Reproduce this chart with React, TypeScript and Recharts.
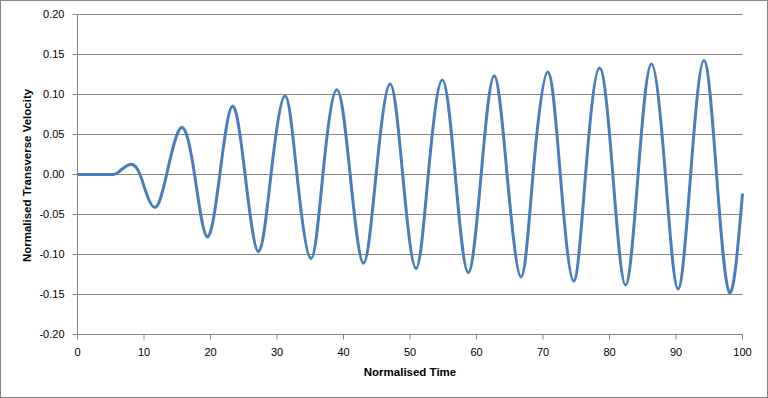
import React from 'react';
import { LineChart, Line, XAxis, YAxis, CartesianGrid } from 'recharts';

const times = [
  0, 1.5, 3, 4.5, 5.4, 6.2, 8.1, 9.4, 10.2, 11.7, 13.4, 15.6, 17.6, 19.5, 21.4, 23.3, 25.2, 27.2, 29.1, 31.2,
  33.0, 35.1, 36.9, 39.0, 41.0, 43.0, 44.9, 47.0, 48.9, 50.9, 52.75, 54.85, 56.8, 58.75,
  60.7, 62.65, 64.6, 66.7, 68.5, 70.7, 72.6, 74.6, 76.4, 78.5, 80.5, 82.4, 84.3, 86.3,
  88.4, 90.3, 92.2, 94.2, 96.1, 98.05, 100,
];

const velocities = [
  0, 0, 0, 0, 0, 0.0033, 0.0128, 0, -0.0196, -0.041, 0, 0.0587, 0, -0.078, 0, 0.0855, 0, -0.0965, 0, 0.098,
  0, -0.105, 0, 0.106, 0, -0.111, 0, 0.113, 0, -0.1175, 0, 0.118, 0, -0.1225,
  0, 0.123, 0, -0.128, 0, 0.128, 0, -0.133, 0, 0.133, 0, -0.138, 0, 0.138,
  0, -0.143, 0, 0.1425, 0, -0.1475, -0.024,
];

const xTicks = [0, 10, 20, 30, 40, 50, 60, 70, 80, 90, 100];
const yTicks = [-0.2, -0.15, -0.1, -0.05, 0, 0.05, 0.1, 0.15, 0.2];

const xTitle = 'Normalised Time';
const yTitle = 'Normalised Transverse Velocity';

const data = times.map((t, i) => ({ t, v: velocities[i] }));

const FONT = '"Liberation Sans", Arial, sans-serif';
const GRID = '#868686';

const XTitle = (props: any) => {
  const vb = props.viewBox || { x: 77.5, y: 334.5, width: 665, height: 63.5 };
  return (
    <text
      x={vb.x + vb.width / 2}
      y={vb.y + 41.5}
      textAnchor="middle"
      fontFamily={FONT}
      fontSize={11.5}
      fontWeight="bold"
      fill="#000"
    >
      {xTitle}
    </text>
  );
};

const YTitle = (props: any) => {
  const vb = props.viewBox || { x: 0, y: 14.5, width: 77.5, height: 320 };
  const cx = 30.5;
  const cy = vb.y + vb.height / 2 + 1;
  return (
    <text
      x={cx}
      y={cy}
      transform={`rotate(-90, ${cx}, ${cy})`}
      textAnchor="middle"
      fontFamily={FONT}
      fontSize={11.5}
      fontWeight="bold"
      fill="#000"
    >
      {yTitle}
    </text>
  );
};

export default function App() {
  return (
    <div style={{ position: 'absolute', left: 0, top: 0, width: 768, height: 398, background: '#fff' }}>
      <LineChart
        width={768}
        height={398}
        data={data}
        margin={{ top: 14.5, right: 25.5, bottom: 0, left: 0 }}
      >
        <CartesianGrid vertical={false} stroke={GRID} strokeWidth={1} />
        <XAxis
          dataKey="t"
          type="number"
          domain={[0, 100]}
          ticks={xTicks}
          interval={0}
          height={63.5}
          tickSize={5}
          tickMargin={9}
          axisLine={{ stroke: GRID }}
          tickLine={{ stroke: GRID }}
          tick={{ fontSize: 11, fontFamily: FONT, fill: '#000' }}
          label={{ content: XTitle }}
        />
        <YAxis
          type="number"
          domain={[-0.2, 0.2]}
          ticks={yTicks}
          interval={0}
          width={77.5}
          tickSize={5}
          tickMargin={8}
          allowDataOverflow
          tickFormatter={(v: number) => v.toFixed(2)}
          axisLine={{ stroke: GRID }}
          tickLine={{ stroke: GRID }}
          tick={{ fontSize: 11, fontFamily: FONT, fill: '#000' }}
          label={{ content: YTitle }}
        />
        <Line
          dataKey="v"
          type="natural"
          stroke="#4A7EBB"
          strokeWidth={3}
          dot={false}
          activeDot={false}
          isAnimationActive={false}
        />
      </LineChart>
      <div
        style={{
          position: 'absolute',
          left: 0,
          top: 0,
          width: 768,
          height: 398,
          boxSizing: 'border-box',
          border: '1px solid #868686',
          pointerEvents: 'none',
        }}
      />
    </div>
  );
}
